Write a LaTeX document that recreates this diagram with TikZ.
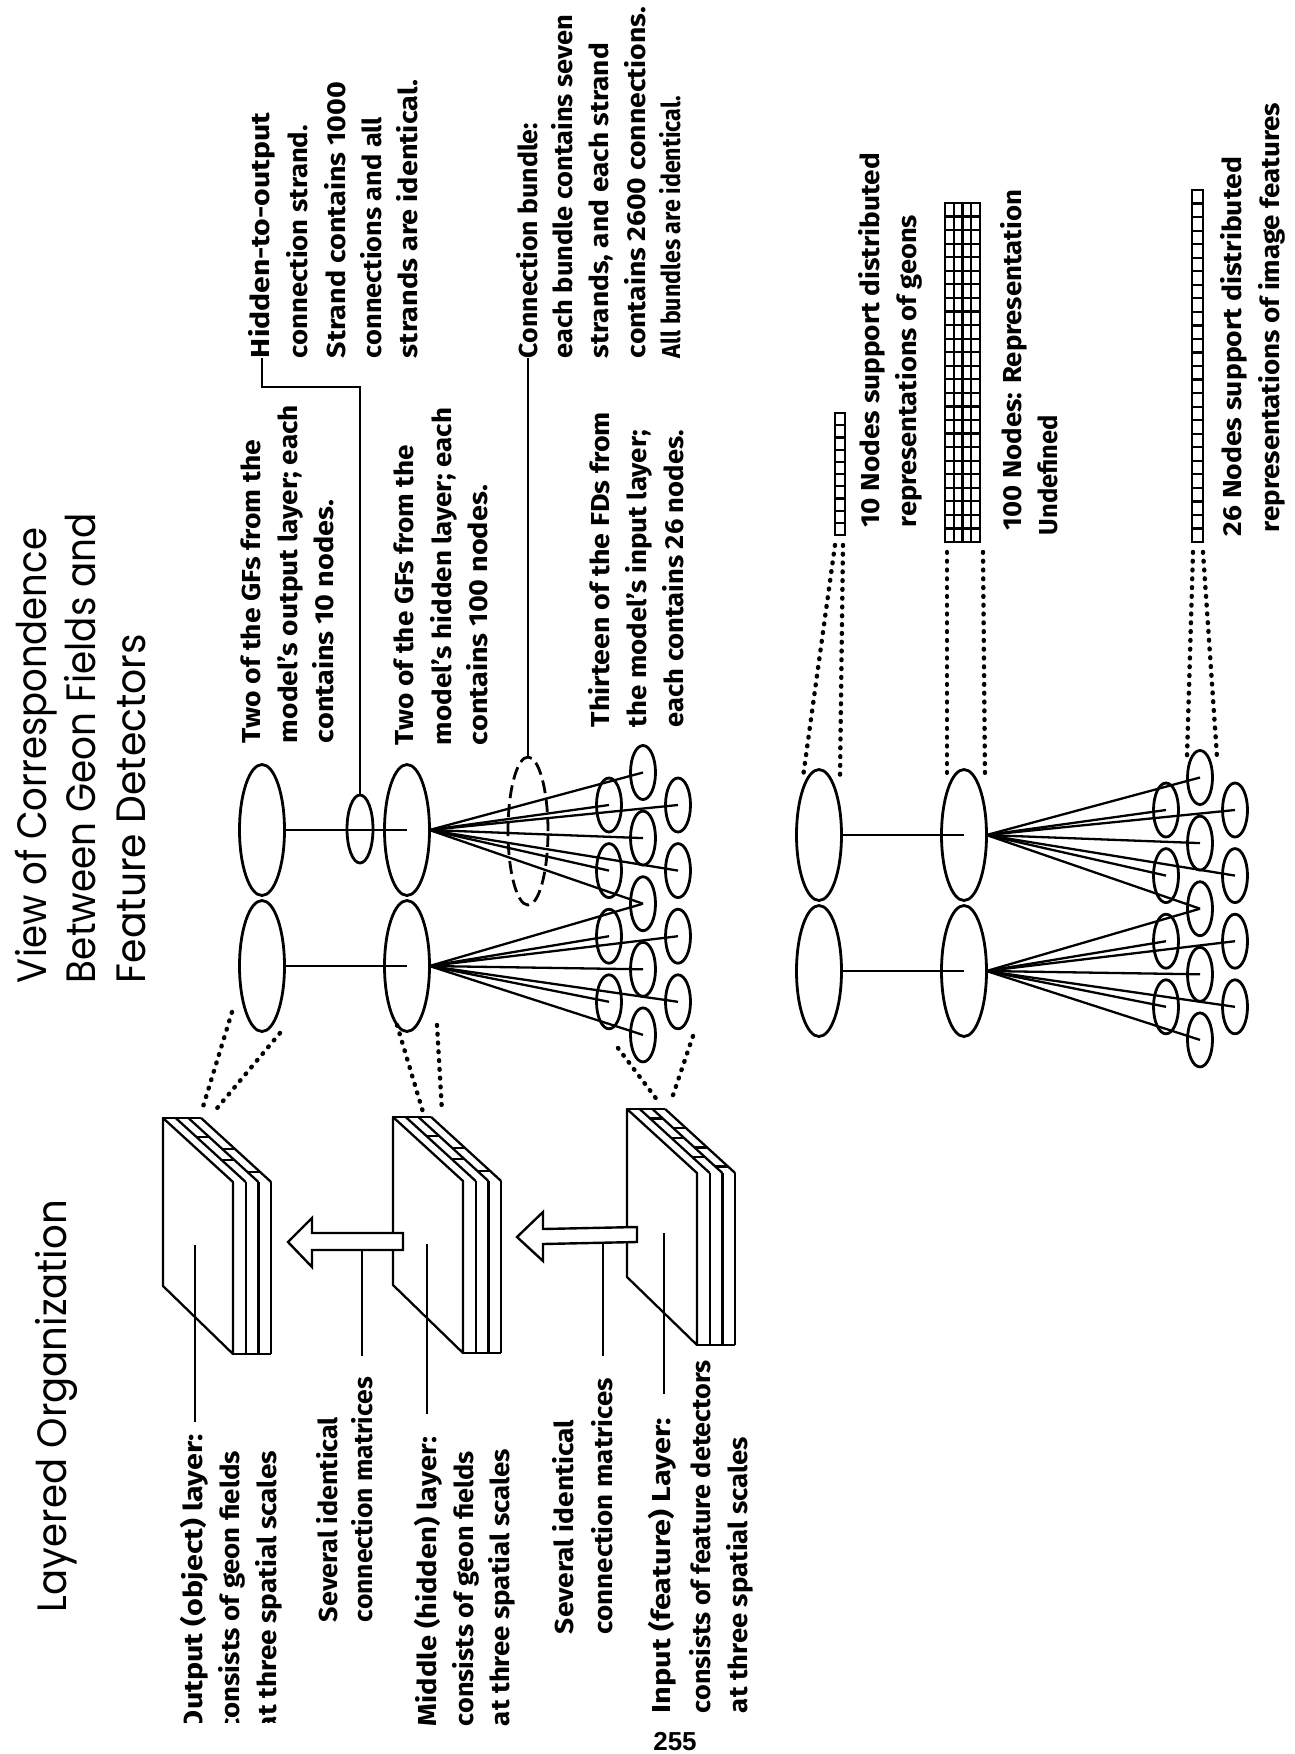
\documentclass[tikz,border=0pt]{standalone}
\usepackage{fontspec}
\usepackage{graphicx}
\usetikzlibrary{shapes.geometric}
\setmainfont{Fira Sans}
\newfontfamily\ttlfont{Poppins}
\newfontfamily\pgnfont{Liberation Sans}
\newcommand{\fitw}[2]{\resizebox{#1pt}{\height}{#2}}
\tikzset{
  lbl/.style={rotate=90, anchor=base west, inner sep=0pt, outer sep=0pt, font=\bfseries\fontsize{26}{30}\selectfont},
  ttl/.style={rotate=90, anchor=base west, inner sep=0pt, outer sep=0pt, font=\ttlfont\fontsize{41}{48}\selectfont},
  oval/.style={draw, ellipse, line width=2.8pt, inner sep=0pt, outer sep=0pt},
  gfoval/.style={oval, minimum width=45pt, minimum height=131pt},
  fdoval/.style={oval, minimum width=25pt, minimum height=54pt},
  conn/.style={line width=2.3pt},
  dotline/.style={line width=4.4pt, line cap=round, dash pattern=on 0.8pt off 8pt},
  bundledash/.style={dash pattern=on 13pt off 6pt},
  slabline/.style={line width=2.3pt, line join=round},
  gridout/.style={line width=2.8pt},
  gridin/.style={line width=2.2pt},
  blockarrow/.style={draw, line width=2.4pt, fill=white, line join=miter}
}
% one set of geon fields and feature detectors
\newcommand{\gfset}[3]{%
 \begin{scope}[shift={(#2,#3)}]
  \node[gfoval] (#1o1) at (-145,0) {};
  \node[gfoval] (#1o2) at (-145,136) {};
  \node[gfoval] (#1h1) at (0,0) {};
  \node[gfoval] (#1h2) at (0,136) {};
  \foreach \k in {0,...,4} \node[fdoval] (#1m\k) at (236,{-57.5+65.6*\k}) {};
  \foreach \k in {0,...,3} {\node[fdoval] (#1l\k) at (202,{-25+65.6*\k}) {};
                            \node[fdoval] (#1r\k) at (271,{-25+65.6*\k}) {};}
  \draw[conn] (#1o1.east) -- (#1h1.center);
  \draw[conn] (#1o2.east) -- (#1h2.center);
  \foreach \t in {m0,m1,m2,l0,l1,r0,r1} \draw[conn] (#1h1.east) -- (#1\t.center);
  \foreach \t in {m2,m3,m4,l2,l3,r2,r3} \draw[conn] (#1h2.east) -- (#1\t.center);
 \end{scope}}
% a layer slab
\newcommand{\slab}[3]{%
 \begin{scope}[shift={(#1,#2)}]
  \draw[slabline] (0,0) -- (70,64) -- (70,236) -- (0,168) -- cycle;
  \draw[slabline] (0,0) -- (38,0);
  \foreach \k in {1,2,3} \draw[slabline] ({\k*12.7},0) -- ({70+\k*12.7},64);
  \foreach \k in {1,2,3} \draw[slabline] ({70+\k*12.7},64) -- ({70+\k*12.7},236);
  \draw[slabline] (70,236) -- (108,236);
  \foreach \f/\k in {#3} \draw[slabline] ({\k*12.7+70*\f},{64*\f}) -- ({(\k+1)*12.7+70*\f},{64*\f});
 \end{scope}}
\begin{document}
\begin{tikzpicture}[x=1pt,y=-1pt]
\useasboundingbox (0,0) rectangle (1295,1754);
% ---------- titles
\node[ttl] (t1) at (46,983) {\fitw{455}{View of Correspondence}};
\node[ttl] (t2) at (95,983) {\fitw{470}{Between Geon Fields and}};
\node[ttl] (t3) at (145,983) {\fitw{349}{Feature Detectors}};
\node[ttl] (t4) at (66,1612) {\fitw{412}{Layered Organization}};
% ---------- upper texts
\node[lbl] (a1) at (269,358) {\fitw{245}{Hidden-to-output}};
\node[lbl] (a2) at (307,358) {\fitw{233}{connection strand.}};
\node[lbl] (a3) at (345,358) {\fitw{276}{Strand contains 1000}};
\node[lbl] (a4) at (381,358) {\fitw{241}{connections and all}};
\node[lbl] (a5) at (417,358) {\fitw{278}{strands are identical.}};
\node[lbl] (b1) at (537,358) {\fitw{235}{Connection bundle:}};
\node[lbl] (b2) at (572,358) {\fitw{343}{each bundle contains seven}};
\node[lbl] (b3) at (608,358) {\fitw{315}{strands, and each strand}};
\node[lbl] (b4) at (645,358) {\fitw{351}{contains 2600 connections.}};
\node[lbl] (b5) at (680,358) {\fitw{262}{All bundles are identical.}};
\node[lbl] (c1) at (260,743) {\fitw{303}{Two of the GFs from the}};
\node[lbl] (c2) at (297,743) {\fitw{338}{model's output layer; each}};
\node[lbl] (c3) at (333,743) {\fitw{243}{contains 10 nodes.}};
\node[lbl] (d1) at (413,745) {\fitw{300}{Two of the GFs from the}};
\node[lbl] (d2) at (451,745) {\fitw{337}{model's hidden layer; each}};
\node[lbl] (d3) at (487,745) {\fitw{260}{contains 100 nodes.}};
\node[lbl] (e1) at (609,727) {\fitw{315}{Thirteen of the FDs from}};
\node[lbl] (e2) at (646,727) {\fitw{297}{the model's input layer;}};
\node[lbl] (e3) at (683,727) {\fitw{297}{each contains 26 nodes.}};
% ---------- right texts
\node[lbl] (r1) at (879,527) {\fitw{374}{10 Nodes support distributed}};
\node[lbl] (r2) at (916,527) {\fitw{312}{representations of geons}};
\node[lbl] (r3) at (1021,530) {\fitw{340}{100 Nodes: Representation}};
\node[lbl] (r4) at (1057,535) {\fitw{120}{Undefined}};
\node[lbl] (r5) at (1241,536) {\fitw{379}{26 Nodes support distributed}};
\node[lbl] (r6) at (1279,532) {\fitw{429}{representations of image features}};
% ---------- lower-left texts
\begin{scope}
 \clip (0,0) rectangle (1295,1722);
 \node[lbl] (o1) at (202,1731) {\fitw{297}{Output (object) layer:}};
 \node[lbl] (o2) at (239,1731) {\fitw{280}{consists of geon fields}};
 \node[lbl] (o3) at (276,1731) {\fitw{280}{at three spatial scales}};
\end{scope}
\node[lbl] (s1) at (337,1622) {\fitw{205}{Several identical}};
\node[lbl] (s2) at (372,1622) {\fitw{245}{connection matrices}};
\node[lbl] (m1) at (436,1726) {\fitw{289}{Middle (hidden) layer:}};
\node[lbl] (m2) at (473,1726) {\fitw{275}{consists of geon fields}};
\node[lbl] (m3) at (509,1726) {\fitw{277}{at three spatial scales}};
\node[lbl] (s3) at (573,1634) {\fitw{214}{Several identical}};
\node[lbl] (s4) at (612,1634) {\fitw{256}{connection matrices}};
\node[lbl] (i1) at (670,1713) {\fitw{295}{Input (feature) Layer:}};
\node[lbl] (i2) at (710,1713) {\fitw{353}{consists of feature detectors}};
\node[lbl] (i3) at (747,1713) {\fitw{276}{at three spatial scales}};
\node[anchor=base, inner sep=0pt, font=\pgnfont\bfseries\fontsize{26}{30}\selectfont] (pg) at (675,1750) {255};
% ---------- node sets
\gfset{u}{407}{830}
\gfset{d}{964}{835}
\node[oval, minimum width=26pt, minimum height=68pt] (strand) at (360,829) {};
\node[oval, bundledash, minimum width=40pt, minimum height=148pt] (bundle) at (528,831) {};
\coordinate (hlead) at (262,358);
\coordinate (hbend1) at (262,387);
\coordinate (hbend2) at (360,387);
\draw[conn] (hlead) -- (hbend1) -- (hbend2) -- (strand.north);
\coordinate (blead) at (528,358);
\draw[conn] (blead) -- (bundle.north);
% ---------- slabs
\slab{163}{1118}{0.3/1,0.48/2,0.66/1,0.84/2}
\slab{393}{1117}{0.3/1,0.48/2,0.66/1,0.84/2}
\slab{627}{1109}{0.15/1,0.3/2,0.45/1,0.6/2,0.75/1,0.9/2}
% ---------- block arrows
\draw[blockarrow] (288,1242) -- (312,1218) -- (312,1233) -- (403,1233) -- (403,1250) -- (312,1250) -- (312,1267) -- cycle;
\draw[blockarrow] (517,1237) -- (543,1212) -- (543,1229) -- (637,1227) -- (637,1242) -- (543,1244) -- (543,1261) -- cycle;
% ---------- leaders to layer labels
\coordinate (lo) at (195,1245); \coordinate (loe) at (195,1422);
\coordinate (lm) at (427,1244); \coordinate (lme) at (427,1414);
\coordinate (li) at (664,1233); \coordinate (lie) at (664,1394);
\coordinate (ls1) at (362,1250); \coordinate (ls1e) at (362,1356);
\coordinate (ls2) at (603,1243); \coordinate (ls2e) at (603,1356);
\draw[conn] (lo) -- (loe);
\draw[conn] (lm) -- (lme);
\draw[conn] (li) -- (lie);
\draw[conn] (ls1) -- (ls1e);
\draw[conn] (ls2) -- (ls2e);
% ---------- dotted correspondences, upper set
\coordinate (p1) at (232,1012); \coordinate (q1) at (202,1110);
\coordinate (p2) at (280,1033); \coordinate (q2) at (213,1113);
\coordinate (p3) at (397,1025); \coordinate (q3) at (423,1112);
\coordinate (p4) at (437,1025); \coordinate (q4) at (442,1112);
\coordinate (p5) at (618,1048); \coordinate (q5) at (658,1101);
\coordinate (p6) at (693,1036); \coordinate (q6) at (671,1101);
\foreach \n in {1,...,6} \draw[dotline] (p\n) -- (q\n);
% ---------- bars
\draw[gridout] (835,413) rectangle (845,535);
\foreach \i in {1,...,9} \draw[gridin] (835,{413+12.2*\i}) -- (845,{413+12.2*\i});
\draw[gridout] (945,203) rectangle (980,542);
\foreach \i in {1,2,3} \draw[gridin] ({945+8.75*\i},203) -- ({945+8.75*\i},542);
\foreach \i in {1,...,24} \draw[gridin] (945,{203+13.56*\i}) -- (980,{203+13.56*\i});
\draw[gridout] (1192,190) rectangle (1203,542);
\foreach \i in {1,...,25} \draw[gridin] (1192,{190+13.54*\i}) -- (1203,{190+13.54*\i});
% ---------- dotted correspondences, lower set
\coordinate (u1) at (835,545); \coordinate (v1) at (803,777);
\coordinate (u2) at (843,545); \coordinate (v2) at (840,777);
\coordinate (u3) at (947,552); \coordinate (v3) at (947,778);
\coordinate (u4) at (983,552); \coordinate (v4) at (985,778);
\coordinate (u5) at (1193,552); \coordinate (v5) at (1187,757);
\coordinate (u6) at (1203,552); \coordinate (v6) at (1217,757);
\foreach \n in {1,...,6} \draw[dotline] (u\n) -- (v\n);
\end{tikzpicture}
\end{document}
